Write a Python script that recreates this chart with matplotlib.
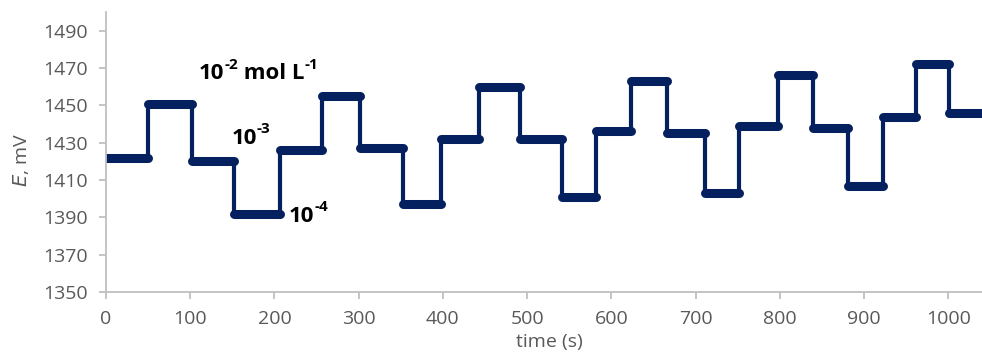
import numpy as np
import matplotlib.pyplot as plt

plt.rcParams['font.family'] = ['Open Sans', 'DejaVu Sans']

# step edges (s) and potential level on each step (mV)
edges = [0, 50, 102, 152, 206, 256, 302, 353, 398, 443, 492, 541, 582,
         623, 666, 711, 752, 798, 839, 881, 922, 962, 1001, 1040]
levels = [1422, 1450.5, 1420, 1392, 1426, 1455, 1427, 1397, 1432, 1460, 1432,
          1401, 1436, 1463, 1435, 1403, 1439, 1466, 1438, 1407, 1444, 1472, 1446]

xticks = list(range(0, 1001, 100))
yticks = list(range(1350, 1491, 20))

navy = '#04205f'
grey = '#595959'

fig = plt.figure(figsize=(9.82, 3.52), dpi=100)
ax = fig.add_axes([106/982, 1 - 292/352, 876/982, 280/352])

t = np.repeat(edges, 2)[1:-1]
e = np.repeat(levels, 2)
ax.plot(t, e, color=navy, lw=3, solid_joinstyle='miter')
ax.hlines(levels, edges[:-1], edges[1:], color=navy, lw=6.5, capstyle='round')

ax.set_xlim(0, 1040)
ax.set_ylim(1350, 1500)
ax.set_xticks(xticks)
ax.set_yticks(yticks)

for s in ['top', 'right']:
    ax.spines[s].set_visible(False)
for s in ['left', 'bottom']:
    ax.spines[s].set_color('#bfbfbf')
    ax.spines[s].set_linewidth(1.3)
ax.tick_params(colors='#bfbfbf', labelcolor=grey, labelsize=14, length=5, width=1.3)
ax.tick_params(axis='x', pad=8)
ax.tick_params(axis='y', pad=8)

fig.text(549/982, 1 - 342/352, 'time (s)', color=grey, fontsize=14, ha='center', va='center')
fig.text(21/982, 1 - 160/352, '$\\mathit{E}$, mV', color=grey, fontsize=14,
         rotation=90, ha='center', va='center')


def conc(x, y, parts):
    # parts: list of (text, is_superscript)
    dx = 0
    for txt, sup in parts:
        an = ax.annotate(txt, (x, y), xytext=(dx, 6.5 if sup else 0), textcoords='offset points',
                         fontsize=11 if sup else 16, fontweight='bold', ha='left', va='center')
        fig.canvas.draw()
        bb = an.get_window_extent()
        dx += bb.width * 72 / fig.dpi + (0.5 if sup else 0)


conc(110, 1467, [('10', False), ('-2', True), (' mol L', False), ('-1', True)])
conc(149, 1432.5, [('10', False), ('-3', True)])
conc(217, 1390.5, [('10', False), ('-4', True)])

fig.savefig('out.png', dpi=100)
